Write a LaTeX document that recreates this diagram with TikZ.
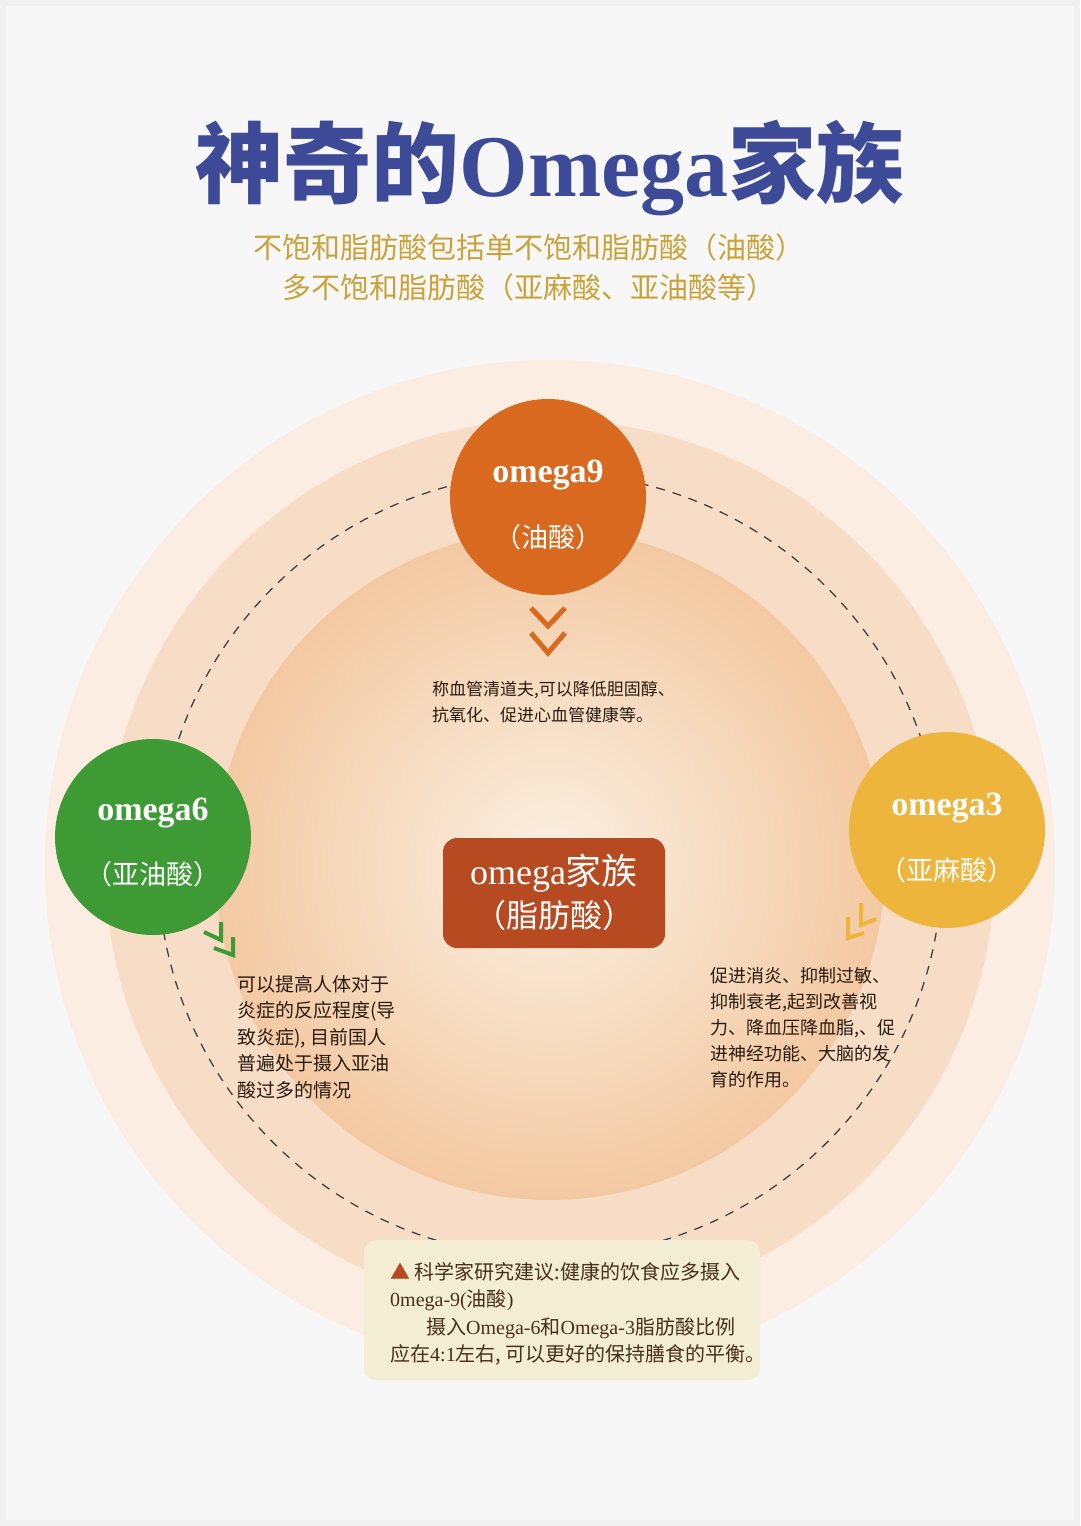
\documentclass[tikz,border=0pt]{standalone}
\usepackage{fontspec}
\setmainfont{Liberation Serif}
\newfontfamily\cjk{Noto Sans CJK SC}
\newfontfamily\latf{Liberation Serif}
\usetikzlibrary{shapes.geometric}
\definecolor{bgc}{HTML}{F7F7F7}
\definecolor{ringA}{HTML}{FBEDE2}
\definecolor{ringB}{HTML}{F8DDC6}
\definecolor{innerC}{HTML}{FAF0E2}
\definecolor{innerE}{HTML}{F3C9A2}
\definecolor{titleC}{HTML}{3D4A98}
\definecolor{goldC}{HTML}{C9A33A}
\definecolor{oNine}{HTML}{D9691F}
\definecolor{oSix}{HTML}{3E9A35}
\definecolor{oThree}{HTML}{EDB53C}
\definecolor{famC}{HTML}{B84A22}
\definecolor{boxC}{HTML}{F3EDD4}
\definecolor{txtC}{HTML}{2A1C12}
\begin{document}
\begin{tikzpicture}[x=1pt,y=-1pt,
  omcirc/.style={circle,minimum size=196pt,inner sep=0pt,text=white,align=center},
  bodytext/.style={text=txtC,align=left,inner sep=0pt,anchor=north west},
  chev/.style={line width=5pt,line cap=butt,line join=miter}]
\useasboundingbox (0,0) rectangle (1080,1526);
\fill[gray!12] (0,0) rectangle (1080,1526);
\fill[bgc] (6,6) rectangle (1074,1520);
\node (title) at (550,168) {\color{titleC}\fontsize{88}{96}\selectfont{\cjk\bfseries 神奇的}\textbf{Omega}{\cjk\bfseries 家族}};
\node[font=\cjk\fontsize{29}{34}\selectfont,text=goldC] (sub1) at (529,247) {不饱和脂肪酸包括单不饱和脂肪酸（油酸）};
\node[font=\cjk\fontsize{29}{34}\selectfont,text=goldC] (sub2) at (529,287) {多不饱和脂肪酸（亚麻酸、亚油酸等）};
\coordinate (c) at (550,865);
\fill[ringA] (c) circle (505);
\fill[ringB] (c) circle (445);
\shade[inner color=innerC,outer color=innerE] (c) circle (335);
\draw[gray!50!black,line width=1.3pt,dash pattern=on 9pt off 8pt] (c) circle (392);
\node[omcirc,fill=oNine] (o9) at (548,497) {};
\node[text=white,font=\bfseries\fontsize{34}{40}\selectfont] at (548,475) {omega9};
\node[text=white,font=\cjk\fontsize{27}{32}\selectfont] at (548,537) {（油酸）};
\node[omcirc,fill=oSix] (o6) at (153,837) {};
\node[text=white,font=\bfseries\fontsize{34}{40}\selectfont] at (153,813) {omega6};
\node[text=white,font=\cjk\fontsize{27}{32}\selectfont] at (153,874) {（亚油酸）};
\node[omcirc,fill=oThree] (o3) at (947,830) {};
\node[text=white,font=\bfseries\fontsize{34}{40}\selectfont] at (947,808) {omega3};
\node[text=white,font=\cjk\fontsize{27}{32}\selectfont] at (947,870) {（亚麻酸）};
\node[fill=famC,rounded corners=14pt,minimum width=222pt,minimum height=110pt] (fam) at (554,893) {};
\node[text=white,font=\fontsize{36}{40}\selectfont] at (554,873) {omega{\cjk 家族}};
\node[text=white,font=\cjk\fontsize{32}{38}\selectfont] at (554,915) {（脂肪酸）};
% chevrons
\draw[chev,oNine] (531,608) -- (548,626) -- (565,608);
\draw[chev,oNine] (531,633) -- (548,653) -- (565,633);
\draw[chev,oSix,line width=4pt] (204,932) -- (221,940) -- (221,922);
\draw[chev,oSix,line width=4pt] (214,948) -- (233,955) -- (233,937);
\draw[chev,oThree,line width=4pt] (861,903) -- (861,925) -- (876,919);
\draw[chev,oThree,line width=4pt] (848,917) -- (848,938) -- (864,933);
\node[bodytext,font=\cjk\fontsize{17}{26}\selectfont] (t9) at (432,681) {称血管清道夫,可以降低胆固醇、\\抗氧化、促进心血管健康等。};
\node[bodytext,font=\cjk\fontsize{19}{26.5}\selectfont] (t6) at (237,975) {可以提高人体对于\\炎症的反应程度(导\\致炎症), 目前国人\\普遍处于摄入亚油\\酸过多的情况};
\node[bodytext,font=\cjk\fontsize{18}{26}\selectfont] (t3) at (710,967) {促进消炎、抑制过敏、\\抑制衰老,起到改善视\\力、降血压降血脂,、促\\进神经功能、大脑的发\\育的作用。};
\node[fill=boxC,rounded corners=12pt,minimum width=396pt,minimum height=140pt,inner sep=0pt] (box) at (562,1310) {};
\node[bodytext,text=txtC!80!brown,font=\cjk\fontsize{20}{27.5}\selectfont] (bt) at (390,1262) {{\color{famC}▲} 科学家研究建议:健康的饮食应多摄入\\{\latf 0mega-9(}油酸{\latf )}\\\hspace*{36pt}摄入{\latf Omega-6}和{\latf Omega-3}脂肪酸比例\\应在{\latf 4:1}左右, 可以更好的保持膳食的平衡。};
\end{tikzpicture}
\end{document}
